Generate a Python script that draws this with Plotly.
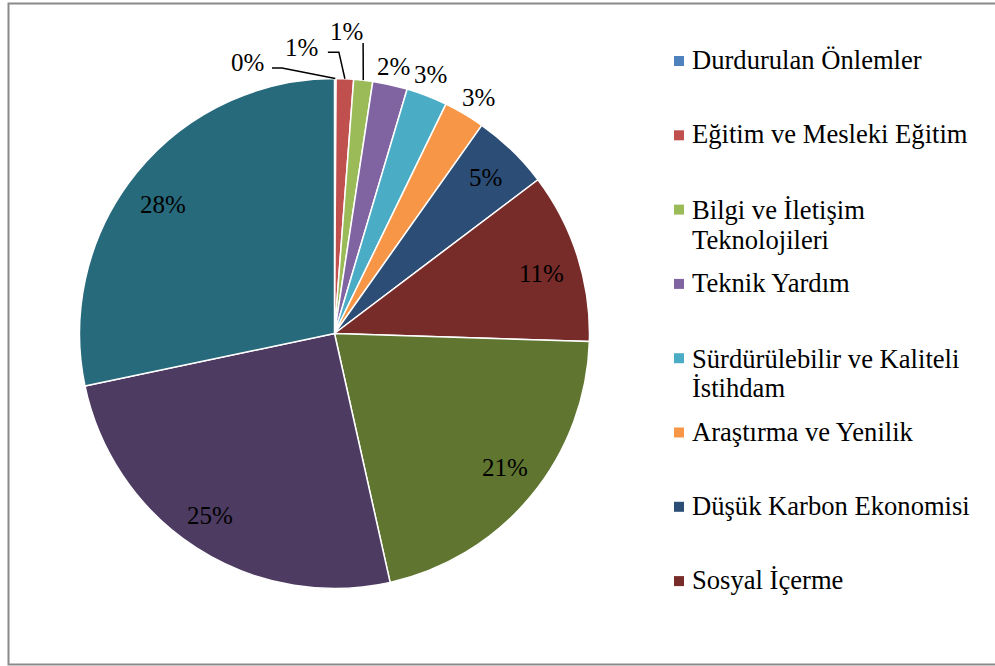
import math
import plotly.graph_objects as go

# ---------------- data ----------------
legend_labels = [
    "Durdurulan Önlemler",
    "Eğitim ve Mesleki Eğitim",
    "Bilgi ve İletişim\nTeknolojileri",
    "Teknik Yardım",
    "Sürdürülebilir ve Kaliteli\nİstihdam",
    "Araştırma ve Yenilik",
    "Düşük Karbon Ekonomisi",
    "Sosyal İçerme",
]
# the last three slices are not listed in the reference legend
unlisted_labels = ["Diğer A", "Diğer B", "Diğer C"]
values = [0.1, 1.1, 1.2, 2.2, 2.6, 2.6, 4.9, 10.8, 21.0, 25.2, 28.3]
colors = ["#4F81BD", "#C0504D", "#9BBB59", "#8064A2", "#4BACC6", "#F79646",
          "#2C4D75", "#772C2A", "#5F7530", "#4D3B62", "#276A7C"]

# ---------------- layout constants ----------------
W, H = 995, 666
CX, CY, R = 334.5, 333.5, 255.0
FONT = "Liberation Serif"
label_mode = ["leader", "leader", "leader", "out", "out", "out",
              "in", "in", "in", "in", "in"]
IN_R, OUT_R = 0.85, 1.08
# small pixel nudges of label positions (Excel "best fit" placement)
label_nudge = [(0, 0), (0, 0), (0, 0), (-1, 2), (-4, -2), (4, 1),
               (0, 0), (0, 6), (3, -4), (-7, 0), (-3, 8)]
leader_pos = {0: (342.2, 1.116), 1: (353.5, 1.13), 2: (2.2, 1.187)}
leader_bends = {0: [(34.5, 5.5), (24.5, 5.5)],
                1: [(37.0, 5.0), (26.0, 5.0)],
                2: [(17.0, 12.0)]}


def to_paper(x, y):
    return x / W, 1 - y / H


def polar(a_deg, r):
    a = math.radians(a_deg)
    return CX + r * math.sin(a), CY - r * math.cos(a)


labels = [l.replace("\n", " ") for l in legend_labels] + unlisted_labels
total = sum(values)

fig = go.Figure(go.Pie(
    labels=labels,
    values=values,
    sort=False,
    direction="clockwise",
    rotation=0,
    textinfo="none",
    hoverinfo="label+percent",
    marker=dict(colors=colors, line=dict(color="white", width=1.5)),
    domain=dict(x=[(CX - R) / W, (CX + R) / W],
                y=[1 - (CY + R) / H, 1 - (CY - R) / H]),
    showlegend=False,
))

annotations = []
shapes = []

# percentage labels
cum = 0.0
for i, v in enumerate(values):
    a0 = cum / total * 360
    cum += v
    a1 = cum / total * 360
    mid = (a0 + a1) / 2
    txt = f"{round(v / total * 100):.0f}%"
    mode = label_mode[i]
    if mode == "in":
        x, y = polar(mid, IN_R * R)
    elif mode == "out":
        x, y = polar(mid, OUT_R * R)
    else:
        ang, rf = leader_pos[i]
        x, y = polar(ang, rf * R)
        ex, ey = polar(mid, R)
        pts = [(ex, ey)] + [(x + dx, y + dy) for dx, dy in leader_bends[i]]
        path = ""
        for k, (px_, py_) in enumerate(pts):
            qx, qy = to_paper(px_, py_)
            path += ("M" if k == 0 else " L") + f"{qx:.5f},{qy:.5f}"
        shapes.append(dict(type="path", xref="paper", yref="paper", path=path,
                           line=dict(color="black", width=1.5)))
    x += label_nudge[i][0]
    y += label_nudge[i][1]
    qx, qy = to_paper(x, y)
    annotations.append(dict(x=qx, y=qy, xref="paper", yref="paper", text=txt,
                            showarrow=False, xanchor="center", yanchor="middle",
                            font=dict(family=FONT, size=25, color="black")))

# legend (drawn manually, Excel style)
LEG_Y0, LEG_STEP, LINE_H = 60.0, 74.3, 29.7
MX, MS, TX = 679.0, 10.0, 690.0
for k, lab in enumerate(legend_labels):
    yc = LEG_Y0 + LEG_STEP * k
    x0, y0 = to_paper(MX - MS / 2, yc + 1 - MS / 2)
    x1, y1 = to_paper(MX + MS / 2, yc + 1 + MS / 2)
    shapes.append(dict(type="rect", xref="paper", yref="paper",
                       x0=x0, x1=x1, y0=y0, y1=y1,
                       fillcolor=colors[k], line=dict(width=0)))
    lines = lab.split("\n")
    for j, ln in enumerate(lines):
        ly = yc + (1.5 if len(lines) > 1 else 0) + LINE_H * j
        qx, qy = to_paper(TX, ly)
        annotations.append(dict(x=qx, y=qy, xref="paper", yref="paper", text=ln,
                                showarrow=False, xanchor="left", yanchor="middle",
                                font=dict(family=FONT, size=26.6, color="black")))

# outer frame
fx0, fy0 = to_paper(8.5, 3.5)
fx1, fy1 = to_paper(1010, 664.5)
shapes.append(dict(type="rect", xref="paper", yref="paper",
                   x0=fx0, x1=fx1, y0=fy1, y1=fy0,
                   line=dict(color="#8a8a8a", width=2), fillcolor="rgba(0,0,0,0)"))

fig.update_layout(
    width=W, height=H,
    margin=dict(l=0, r=0, t=0, b=0),
    paper_bgcolor="white",
    plot_bgcolor="white",
    annotations=annotations,
    shapes=shapes,
    font=dict(family=FONT),
)

fig.write_html("out.html", config={"displayModeBar": False},
               post_script="document.body.style.margin='0';document.body.style.overflow='hidden';")
